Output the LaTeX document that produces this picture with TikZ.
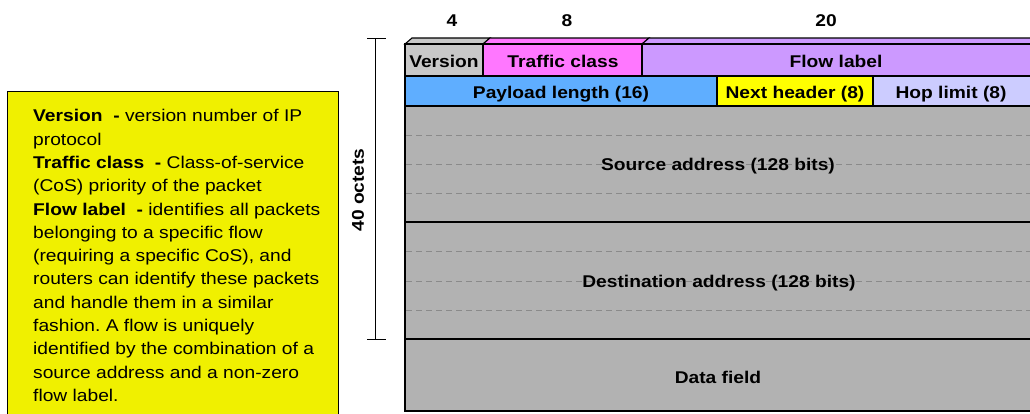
\documentclass[tikz,border=0pt]{standalone}
\usepackage{fontspec}
\setmainfont{Liberation Sans}[FakeStretch=1.13]
\frenchspacing
\definecolor{cver}{HTML}{C8C8C8}
\definecolor{ctraf}{HTML}{FF77FF}
\definecolor{cflow}{HTML}{CC99FF}
\definecolor{cpay}{HTML}{5FAEFF}
\definecolor{cnext}{HTML}{FFFF00}
\definecolor{chop}{HTML}{CCCCFF}
\definecolor{cbody}{HTML}{B2B2B2}
\definecolor{cyel}{HTML}{F0F000}
\definecolor{dashgray}{HTML}{8A8A8A}
\begin{document}
\begin{tikzpicture}[x=1pt,y=-1pt,
  lbl/.style={font=\bfseries\fontsize{17}{20}\selectfont, inner sep=0pt, anchor=base},
  field/.style={draw=black, line width=1.1pt},
  sepline/.style={draw=dashgray, dash pattern=on 6pt off 4pt, line width=0.8pt},
  bracket/.style={draw=black, line width=1pt}]
\useasboundingbox (0,0) rectangle (1030,413);

% note box
\filldraw[fill=cyel, draw=black, line width=0.9pt] (7,91) rectangle (338,416);
\node[anchor=north west, inner sep=0pt, align=left,
      font=\fontsize{17}{23.3}\selectfont] (note) at (33,109.3)
  {\textbf{Version\ \ -} version number of IP\\
   protocol\\
   \textbf{Traffic class\ \ -} Class-of-service\\
   (CoS) priority of the packet\\
   \textbf{Flow label\ \ -} identifies all packets\\
   belonging to a specific flow\\
   (requiring a specific CoS), and\\
   routers can identify these packets\\
   and handle them in a similar\\
   fashion. A flow is uniquely\\
   identified by the combination of a\\
   source address and a non-zero\\
   flow label.};

% column widths
\node[lbl] (w4) at (452,26) {4};
\node[lbl] (w8) at (567,26) {8};
\node[lbl] (w20) at (826,26) {20};

% bracket
\coordinate (bt) at (375,38);
\coordinate (bb) at (375,339);
\draw[bracket] (bt) -- (bb);
\draw[bracket] (367,38) -- (386,38);
\draw[bracket] (367,339) -- (386,339);
\node[font=\bfseries\fontsize{17}{20}\selectfont, rotate=90, inner sep=0pt] (oct) at (358,190) {40 octets};

% top bevel faces
\filldraw[field, fill=cver] (405,44) -- (412,38) -- (490,38) -- (483,44) -- cycle;
\filldraw[field, fill=ctraf] (483,44) -- (490,38) -- (649,38) -- (642,44) -- cycle;
\filldraw[field, fill=cflow] (642,44) -- (649,38) -- (1032,38) -- (1032,44) -- cycle;

% header row 1
\filldraw[field, fill=cver] (405,44) rectangle (483,76);
\filldraw[field, fill=ctraf] (483,44) rectangle (642,76);
\filldraw[field, fill=cflow] (642,44) rectangle (1032,76);
% header row 2
\filldraw[field, fill=cpay] (405,76) rectangle (717,106);
\filldraw[field, fill=cnext] (717,76) rectangle (873,106);
\filldraw[field, fill=chop] (873,76) rectangle (1032,106);
% body
\filldraw[field, fill=cbody] (405,106) rectangle (1032,222);
\filldraw[field, fill=cbody] (405,222) rectangle (1032,339);
\filldraw[field, fill=cbody] (405,339) rectangle (1032,411);

% dashed word lines
\foreach \yy in {135,164,193,251,281,310}
  \draw[sepline] (406,\yy) -- (1031,\yy);

% labels
\node[lbl] (lver) at (444,67) {Version};
\node[lbl] (ltraf) at (563,67) {Traffic class};
\node[lbl] (lflow) at (836,67) {Flow label};
\node[lbl] (lpay) at (561,98.5) {Payload length (16)};
\node[lbl] (lnext) at (795,98.5) {Next header (8)};
\node[lbl] (lhop) at (951,98.5) {Hop limit (8)};
\node[lbl] (lsrc) at (718,170) {Source address (128 bits)};
\node[lbl] (ldst) at (719,287) {Destination address (128 bits)};
\node[lbl] (ldata) at (718,383) {Data field};
\end{tikzpicture}
\end{document}
